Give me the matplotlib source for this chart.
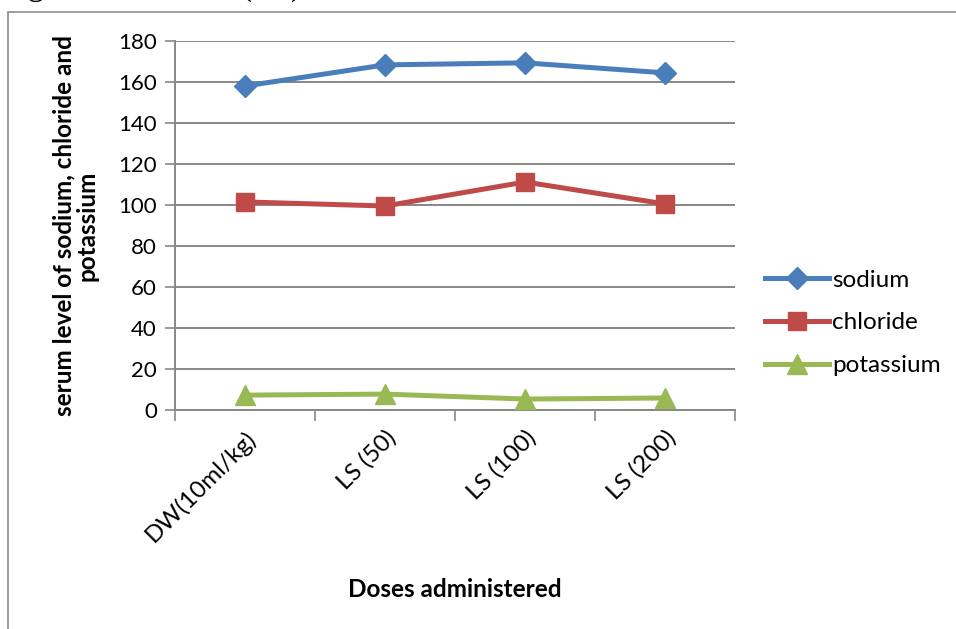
import matplotlib
matplotlib.use('Agg')
import matplotlib.pyplot as plt
from matplotlib.patches import Rectangle

doses = ['DW(10ml/kg)', 'LS (50)', 'LS (100)', 'LS (200)']
sodium = [158.0, 168.3, 169.3, 164.4]
chloride = [101.5, 99.5, 111.2, 100.5]
potassium = [7.3, 7.8, 5.4, 5.9]
yticks = [0, 20, 40, 60, 80, 100, 120, 140, 160, 180]

plt.rcParams['font.family'] = ['Lato', 'DejaVu Sans']

fig = plt.figure(figsize=(9.56, 6.29), dpi=100)
ax = fig.add_axes([0.183, 0.348, 0.586, 0.587])

x = list(range(len(doses)))
ax.plot(x, sodium, color='#4A7EBB', lw=3.6, marker='D', ms=11, label='sodium', zorder=3)
ax.plot(x, chloride, color='#BE4B48', lw=3.6, marker='s', ms=13, label='chloride', zorder=3)
ax.plot(x, potassium, color='#98B954', lw=3.6, marker='^', ms=14, label='potassium', zorder=3)

ax.set_xlim(-0.5, len(doses) - 0.5)
ax.set_ylim(0, 180)
ax.set_yticks(yticks)
ax.yaxis.grid(True, color='#878787', lw=1.4)
ax.set_axisbelow(True)
ax.tick_params(axis='y', labelsize=16, length=7, color='#878787', width=1.2, pad=6)

ax.set_xticks([i - 0.5 for i in range(len(doses) + 1)])
ax.set_xticklabels([])
ax.set_xticks(x, minor=True)
ax.set_xticklabels(doses, minor=True, rotation=45, ha='right', rotation_mode='anchor', fontsize=17.5)
ax.tick_params(axis='x', which='major', length=8, color='#878787', width=1.2)
ax.tick_params(axis='x', which='minor', length=0, pad=12)

for s in ['top', 'right']:
    ax.spines[s].set_visible(False)
for s in ['left', 'bottom']:
    ax.spines[s].set_color('#878787')
    ax.spines[s].set_linewidth(1.4)

ax.set_ylabel('serum level of sodium, chloride and\npotassium', fontsize=17.5,
              fontweight='bold', labelpad=14, linespacing=1.0)
ax.set_xlabel('Doses administered', fontsize=17.5, fontweight='bold')
ax.xaxis.set_label_coords(0.5, -0.455)

leg = ax.legend(loc='center left', bbox_to_anchor=(1.015, 0.236), frameon=False,
                fontsize=17.5, handlelength=2.6, labelspacing=0.9, handletextpad=0.15)

fig.patches.append(Rectangle((0.0084, -0.05), 1.2, 0.981 + 0.05, transform=fig.transFigure,
                             fill=False, edgecolor='#8c8c8c', lw=1.2))
fig.text(0.0, 1.009, 'Figure 4.3 Serum (LS)', fontsize=24, family='Liberation Serif',
         va='baseline', ha='left')

fig.savefig('out.png', dpi=100)
